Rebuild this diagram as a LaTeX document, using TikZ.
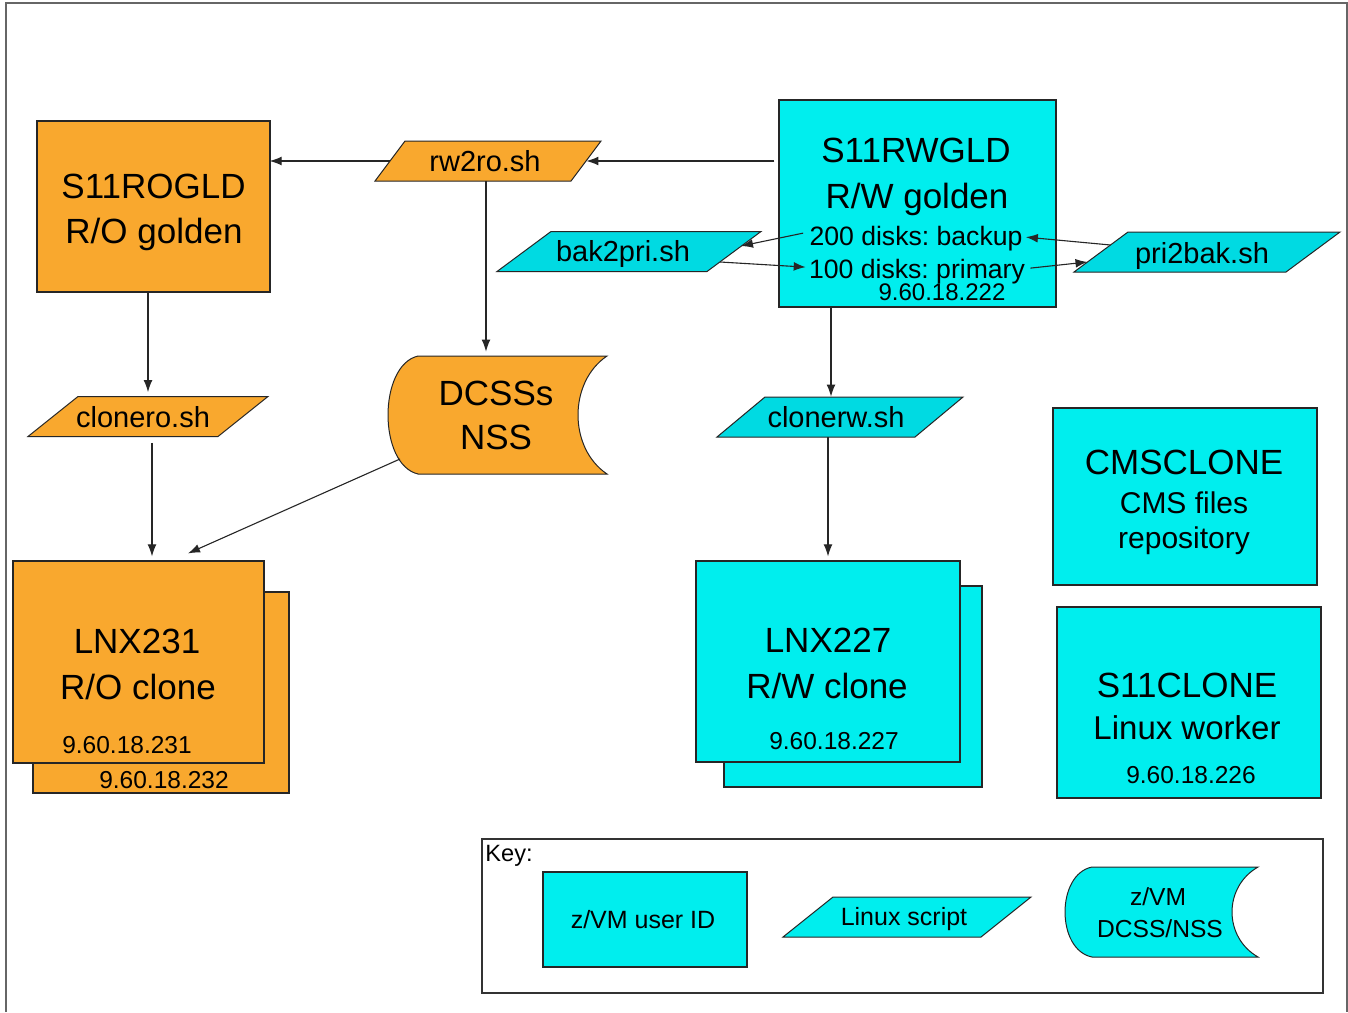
\documentclass[tikz,border=0pt]{standalone}
\usepackage{fontspec}
\setmainfont{Liberation Sans}
\usetikzlibrary{arrows.meta,calc}
\definecolor{orng}{RGB}{249,168,46}
\definecolor{cyb}{RGB}{0,238,238}
\definecolor{cys}{RGB}{0,218,226}
\definecolor{framec}{RGB}{102,102,102}
\newcommand\fsz[1]{\fontsize{#1pt}{#1pt}\selectfont}
\frenchspacing
% box from (x1,y1) to (x2,y2) in pixel units
\newcommand\bx[6]{\node[#1, minimum width={0.5pt*(#5-#3)}, minimum height={0.5pt*(#6-#4)}] (#2) at ({(#3+#5)/2},{(#4+#6)/2}) {};}
% text: name, cx, baseline, size(pt), text
\newcommand\tx[5]{\node[txt, font=\fsz{#4}] (#1) at (#2,#3) {#5};}
% script parallelogram: fill, name, cx, cy, half width at mid height, half slant
\newcommand\scr[6]{%
  \draw[shp, fill=#1] ({#3-#5-#6},{#4+20}) -- ({#3+#5-#6},{#4+20}) -- ({#3+#5+#6},{#4-20}) -- ({#3-#5+#6},{#4-20}) -- cycle;
  \node[inner sep=0pt, minimum width={#5*1pt}, minimum height=20pt] (#2) at (#3,#4) {};}
% DCSS shape: fill, name, x left extreme, x top-left corner, x right, concave depth, y top, y bottom
\newcommand\dcssshape[8]{%
  \draw[shp, fill=#1] (#4,#7) -- (#5,#7)
     .. controls ({#5-1.333*#6},{#7+0.22*(#8-#7)}) and ({#5-1.333*#6},{#8-0.22*(#8-#7)}) .. (#5,#8)
     -- (#4,#8)
     .. controls ({#4-1.333*(#4-#3)},{#8-0.08*(#8-#7)}) and ({#4-1.333*(#4-#3)},{#7+0.08*(#8-#7)}) .. (#4,#7) -- cycle;
  \node[inner sep=0pt, minimum width={0.5pt*(#5-#3)}, minimum height={0.5pt*(#8-#7)}] (#2) at ({(#3+#5)/2},{(#7+#8)/2}) {};}
\tikzset{
  obox/.style={draw=black!85, line width=0.6pt, fill=orng, inner sep=0pt},
  cbox/.style={draw=black!85, line width=0.6pt, fill=cyb, inner sep=0pt},
  kbox/.style={draw=black!80, line width=0.8pt, inner sep=0pt},
  txt/.style={anchor=base, inner sep=1pt, text=black},
  shp/.style={draw=black!85, line width=0.5pt},
  arr/.style={draw=black!85, line width=0.55pt, -{Latex[length=6pt,width=4.4pt]}},
}
\begin{document}
\begin{tikzpicture}[x=0.5pt, y=-0.5pt]
\fill[white] (0,0) rectangle (1348,1012);
\useasboundingbox (0,0) rectangle (1348,1012);
\draw[framec, line width=1pt] (6,1012) -- (6,3) -- (1347,3) -- (1347,1012);

% golden images
\bx{obox}{rogld}{37}{121}{270}{292}
\tx{rogldA}{153.5}{198.5}{17.5}{S11ROGLD}
\tx{rogldB}{154}{243.5}{17.5}{R/O golden}

\bx{cbox}{rwgld}{779}{100}{1056}{307}
\tx{rwgldA}{916}{162}{17.5}{S11RWGLD}
\tx{rwgldB}{917}{208}{17.5}{R/W golden}
\tx{backup}{916}{245}{13.3}{200 disks: backup}
\tx{primary}{917}{278}{13.3}{100 disks: primary}
\tx{ipa}{942}{300}{12}{9.60.18.222}

% scripts
\scr{orng}{rw2ro}{488}{161}{98}{15}
\tx{rw2roT}{485}{171}{14.5}{rw2ro.sh}
\scr{cys}{bak2pri}{629}{251.5}{105}{27}
\tx{bak2priT}{623}{261.5}{14.5}{bak2pri.sh}
\scr{cys}{pri2bak}{1207}{252}{106}{27}
\tx{pri2bakT}{1202}{263}{14.5}{pri2bak.sh}
\scr{orng}{clonero}{148}{416.5}{95}{25}
\tx{cloneroT}{143}{427.5}{14.5}{clonero.sh}
\scr{cys}{clonerw}{840}{417}{99}{24}
\tx{clonerwT}{836}{427.5}{14.5}{clonerw.sh}

% DCSS
\dcssshape{orng}{dcss}{388}{418}{607}{29}{356}{474}
\tx{dcssA}{496}{405.5}{17.5}{DCSSs}
\tx{dcssB}{496}{449.5}{17.5}{NSS}

% clones
\bx{obox}{lnx231b}{33}{592}{289}{793}
\bx{obox}{lnx231}{13}{561}{264}{763}
\tx{lnx231A}{137}{653}{17.5}{LNX231}
\tx{lnx231B}{138}{699}{17.5}{R/O clone}
\tx{ipb}{127}{753}{12.25}{9.60.18.231}
\tx{ipc}{164}{788}{12.25}{9.60.18.232}

\bx{cbox}{lnx227b}{724}{586}{982}{787}
\bx{cbox}{lnx227}{696}{561}{960}{762}
\tx{lnx227A}{828}{652}{17.5}{LNX227}
\tx{lnx227B}{827}{698}{17.5}{R/W clone}
\tx{ipd}{834}{749}{12.25}{9.60.18.227}

\bx{cbox}{cmsclone}{1053}{408}{1317}{585}
\tx{cmsA}{1184}{474}{17.5}{CMSCLONE}
\tx{cmsB}{1184}{513}{15}{CMS files}
\tx{cmsC}{1184}{548}{15}{repository}

\bx{cbox}{s11clone}{1057}{607}{1321}{798}
\tx{s11A}{1187}{697}{17.5}{S11CLONE}
\tx{s11B}{1187}{739}{16.5}{Linux worker}
\tx{ipe}{1191}{783}{12.25}{9.60.18.226}

% key
\bx{kbox}{key}{482}{839}{1323}{993}
\node[txt, anchor=base west, font=\fsz{11.8}] (keyT) at (483,861) {Key:};
\bx{cbox}{keyuser}{543}{872}{747}{967}
\tx{keyuserT}{643}{928}{12.5}{z/VM user ID}
\scr{cyb}{keyscr}{907}{917}{99}{25}
\tx{keyscrT}{904}{925}{12.5}{Linux script}
\dcssshape{cyb}{keydcss}{1065}{1092}{1258}{26}{867}{957}
\tx{keydcssA}{1158}{905}{12.3}{z/VM}
\tx{keydcssB}{1160}{937}{12.3}{DCSS/NSS}

% connectors
\draw[arr] ($(rwgld.west |- rw2ro.east)+(-4,0)$) -- (rw2ro.east);
\draw[arr] (rw2ro.west) -- ($(rogld.east |- rw2ro.west)+(-1,0)$);
\draw[arr, shorten >=2pt] ($(rw2ro.south)+(-2,0)$) -- ($(rw2ro.south |- dcss.north)+(-2,0)$);
\draw[arr] ($(backup.west)+(-4,-5)$) -- ($(bak2pri)+(112,-5.5)$);
\draw[arr] ($(bak2pri)+(91,10.5)$) -- ($(primary.west)+(-1,-4)$);
\draw[arr] ($(pri2bak)+(-96.5,-7)$) -- ($(backup.east)+(1,-1)$);
\draw[arr] ($(primary.east)+(3,-3)$) -- ($(pri2bak)+(-119.5,10)$);
\draw[arr] ($(rwgld.south)+(-86.5,0)$) -- ($(clonerw.north)+(-9,0)$);
\draw[arr, shorten >=2pt] (clonerw.south -| lnx227.north) -- (lnx227.north);
\draw[arr, shorten >=2pt] (rogld.south -| clonero.north) -- (clonero.north);
\draw[arr] ($(clonero.south)+(4,6)$) -- ($(lnx231.north)+(13.5,-4)$);
\draw[arr] ($(dcss)+(-97.5,44)$) -- ($(lnx231.north)+(49.5,-7)$);
\end{tikzpicture}
\end{document}
